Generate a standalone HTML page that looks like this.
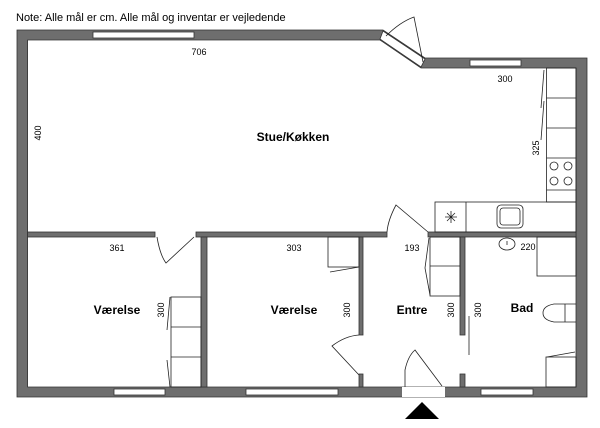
<!DOCTYPE html>
<html><head><meta charset="utf-8"><style>
body{margin:0;background:#fff}
svg{display:block}
text{font-family:"Liberation Sans",sans-serif;fill:#000}
.d{font-size:9px}
.r{font-size:12px;font-weight:bold}
</style></head><body>
<svg width="600" height="428" viewBox="0 0 600 428">
<text x="16" y="21" font-size="11">Note: Alle mål er cm. Alle mål og inventar er vejledende</text>
<g fill="#6e6e6e" stroke="#333" stroke-width="0.8">
<!-- outer walls -->
<path d="M17,30 L383,30 L425,58 L587,58 L587,397 L17,397 Z M27.6,40 L27.6,387 L576,387 L576,68 L421,68 L380,40 Z" fill-rule="evenodd"/>
<!-- interior horizontal wall -->
<rect x="27.6" y="232" width="127.4" height="5"/>
<rect x="196" y="232" width="191" height="5"/>
<rect x="428" y="232" width="148" height="5"/>
<!-- vertical walls -->
<rect x="201" y="237" width="6" height="150"/>
<rect x="359" y="237" width="4" height="98"/>
<rect x="359" y="374" width="4" height="13"/>
<rect x="460" y="237" width="5" height="98"/>
<rect x="460" y="374" width="5" height="13"/>
</g>
<!-- windows -->
<g fill="#fff" stroke="#333" stroke-width="0.8">
<rect x="93" y="32" width="101" height="6"/>
<rect x="470" y="60" width="51" height="6"/>
<rect x="114" y="389" width="51" height="6"/>
<rect x="246" y="389" width="92" height="6"/>
<rect x="481" y="389" width="52" height="6"/>
<rect x="402" y="387" width="43" height="10" stroke="none"/>
<polygon points="383,31 425,59 421,67 380,39" />
</g>
<g fill="none" stroke="#222" stroke-width="0.8">
<!-- entry door -->
<path d="M405,387 L405,370 Q408,356 415,350 L442,386"/>
<!-- diagonal door swing -->
<path d="M386,36 Q400,22 414,17 L423,62"/>
<!-- kitchen counters -->
<rect x="546.5" y="68" width="29.5" height="134"/>
<line x1="546.5" y1="98" x2="576" y2="98"/>
<line x1="546.5" y1="128" x2="576" y2="128"/>
<line x1="546.5" y1="158" x2="576" y2="158"/>
<line x1="546.5" y1="190" x2="576" y2="190"/>
<circle cx="554" cy="166" r="4"/><circle cx="568" cy="166" r="4"/>
<circle cx="554" cy="181" r="4"/><circle cx="568" cy="181" r="4"/>
<rect x="435" y="202" width="141" height="30"/>
<line x1="466" y1="202" x2="466" y2="232"/>
<rect x="497" y="205" width="26" height="23" rx="4"/>
<rect x="500" y="208" width="20" height="17" rx="3"/>
<path d="M445,217 h12 M451,211 v12 M447,213 l8,8 M455,213 l-8,8"/>
<path d="M544,70 L541,108 M544,101 L541,140"/>
<!-- kitchen door -->
<path d="M387,232 Q388,220 396,205 L428,232"/>
<!-- room1 door -->
<path d="M157,237 Q160,255 166,263 L194,237"/>
<!-- room1 wardrobe -->
<rect x="171" y="297" width="30" height="90"/>
<line x1="171" y1="327" x2="201" y2="327"/>
<line x1="171" y1="357" x2="201" y2="357"/>
<path d="M170,297 L167,330 M167,360 L170,387"/>
<!-- room2 wardrobe -->
<rect x="328" y="237" width="31" height="30"/>
<path d="M330,272 L359,267"/>
<!-- room2 door -->
<path d="M359,335 Q345,336 332,346 L359,375"/>
<!-- entre wardrobe -->
<rect x="430" y="237" width="30" height="59"/>
<line x1="430" y1="266" x2="460" y2="266"/>
<path d="M429,238 L425,268 L430,295"/>
<!-- bath door line -->
<line x1="469" y1="316" x2="469" y2="355"/>
<!-- bath fixtures -->
<ellipse cx="507" cy="244" rx="8" ry="6"/>
<path d="M507,241 v4"/>
<rect x="537" y="237" width="39" height="39"/>
<path d="M576,304 L554,304 Q543,306 543,313 Q543,320 554,322 L576,322"/>
<line x1="565" y1="304" x2="565" y2="322"/>
<rect x="546" y="357" width="30" height="30"/>
<path d="M547,357 L575,352"/>
</g>
<polygon points="422,402 405,419 439,419" fill="#000"/>
<g class="d">
<text x="199" y="55" text-anchor="middle">706</text>
<text x="505" y="82" text-anchor="middle">300</text>
<text x="117" y="251" text-anchor="middle">361</text>
<text x="294" y="251" text-anchor="middle">303</text>
<text x="412" y="251" text-anchor="middle">193</text>
<text x="528" y="250" text-anchor="middle">220</text>
<text transform="translate(41,133) rotate(-90)" text-anchor="middle">400</text>
<text transform="translate(539,148) rotate(-90)" text-anchor="middle">325</text>
<text transform="translate(164,310) rotate(-90)" text-anchor="middle">300</text>
<text transform="translate(350,310) rotate(-90)" text-anchor="middle">300</text>
<text transform="translate(454,310) rotate(-90)" text-anchor="middle">300</text>
<text transform="translate(481,310) rotate(-90)" text-anchor="middle">300</text>
</g>
<g class="r" text-anchor="middle">
<text x="293" y="141">Stue/Køkken</text>
<text x="117" y="314">Værelse</text>
<text x="294" y="314">Værelse</text>
<text x="412" y="314">Entre</text>
<text x="522" y="312">Bad</text>
</g>
</svg>
</body></html>
